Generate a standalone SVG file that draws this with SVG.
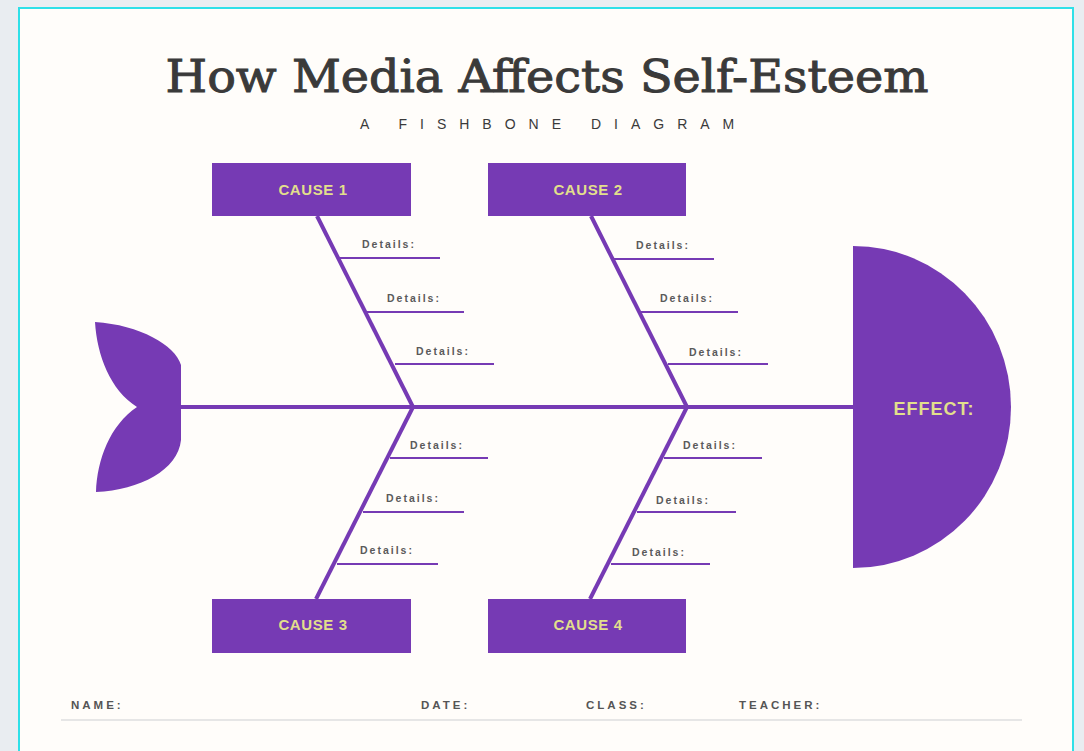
<svg xmlns="http://www.w3.org/2000/svg" width="1084" height="751" viewBox="0 0 1084 751">
<style>
.box{fill:#763ab4}
.ct{font-family:"Liberation Sans",Arial,sans-serif;font-weight:bold;font-size:15px;letter-spacing:0.6px;fill:#e2df8c;text-anchor:middle}
.bone{stroke:#763ab4;stroke-width:4;fill:none;stroke-linecap:butt}
.sub{stroke:#763ab4;stroke-width:2;fill:none}
.dt{font-family:"Liberation Sans",Arial,sans-serif;font-weight:bold;font-size:10.5px;letter-spacing:2px;fill:#5a5a5a}
.ft{font-family:"Liberation Sans",Arial,sans-serif;font-weight:bold;font-size:11.5px;letter-spacing:3px;fill:#555}
</style>
<rect x="0" y="0" width="1084" height="751" fill="#e9edf1"/>
<rect x="19" y="8" width="1054" height="760" fill="#fffdfa" stroke="#2ee0e8" stroke-width="2"/>
<text x="547" y="92" font-family="DejaVu Serif,serif" font-size="45" fill="#3a3a3a" stroke="#3a3a3a" stroke-width="1" text-anchor="middle" textLength="763" lengthAdjust="spacingAndGlyphs">How Media Affects Self-Esteem</text>
<text x="360" y="129" font-family="Liberation Sans,Arial,sans-serif" font-size="14" letter-spacing="13" fill="#3a3a3a">A FISHBONE DIAGRAM</text>
<g id="connectors">
<line class="bone" x1="178" y1="407" x2="855" y2="407"/>
<line class="bone" x1="317" y1="216" x2="413" y2="407"/>
<line class="bone" x1="591" y1="216" x2="687" y2="407"/>
<line class="bone" x1="413" y1="407" x2="316" y2="599"/>
<line class="bone" x1="687" y1="407" x2="590" y2="599"/>
<line class="sub" x1="340" y1="258" x2="440" y2="258"/>
<line class="sub" x1="367" y1="312" x2="464" y2="312"/>
<line class="sub" x1="395" y1="364" x2="494" y2="364"/>
<line class="sub" x1="614" y1="259" x2="714" y2="259"/>
<line class="sub" x1="640" y1="312" x2="738" y2="312"/>
<line class="sub" x1="668" y1="364" x2="768" y2="364"/>
<line class="sub" x1="390" y1="458" x2="488" y2="458"/>
<line class="sub" x1="363" y1="512" x2="464" y2="512"/>
<line class="sub" x1="337" y1="564" x2="438" y2="564"/>
<line class="sub" x1="664" y1="458" x2="762" y2="458"/>
<line class="sub" x1="637" y1="512" x2="736" y2="512"/>
<line class="sub" x1="611" y1="564" x2="710" y2="564"/>
</g>
<g id="tail">
<path d="M95,322 C140,325 175,345 181,365 L181,440 C178,470 140,490 96,492 C97,460 110,425 137,407 C110,390 97,355 95,322 Z" fill="#763ab4"/>
</g>
<g id="effect">
<path d="M853,246 A158,161 0 0 1 853,568 Z" fill="#763ab4"/>
<text x="934" y="415" class="ct" style="font-size:18px;letter-spacing:1px">EFFECT:</text>
</g>
<g id="cause1"><rect class="box" x="212" y="163" width="199" height="53"/><text class="ct" x="313" y="195">CAUSE 1</text></g>
<g id="cause2"><rect class="box" x="488" y="163" width="198" height="53"/><text class="ct" x="588" y="195">CAUSE 2</text></g>
<g id="cause3"><rect class="box" x="212" y="599" width="199" height="54"/><text class="ct" x="313" y="630">CAUSE 3</text></g>
<g id="cause4"><rect class="box" x="488" y="599" width="198" height="54"/><text class="ct" x="588" y="630">CAUSE 4</text></g>
<g id="details">
<text class="dt" x="362" y="248">Details:</text>
<text class="dt" x="387" y="302">Details:</text>
<text class="dt" x="416" y="355">Details:</text>
<text class="dt" x="636" y="249">Details:</text>
<text class="dt" x="660" y="302">Details:</text>
<text class="dt" x="689" y="356">Details:</text>
<text class="dt" x="410" y="449">Details:</text>
<text class="dt" x="386" y="502">Details:</text>
<text class="dt" x="360" y="554">Details:</text>
<text class="dt" x="683" y="449">Details:</text>
<text class="dt" x="656" y="504">Details:</text>
<text class="dt" x="632" y="556">Details:</text>
</g>
<g id="footer">
<text class="ft" x="71" y="709">NAME:</text>
<text class="ft" x="421" y="709">DATE:</text>
<text class="ft" x="586" y="709">CLASS:</text>
<text class="ft" x="739" y="709">TEACHER:</text>
<line x1="61" y1="720" x2="1022" y2="720" stroke="#e6e6e6" stroke-width="2"/>
</g>
</svg>
